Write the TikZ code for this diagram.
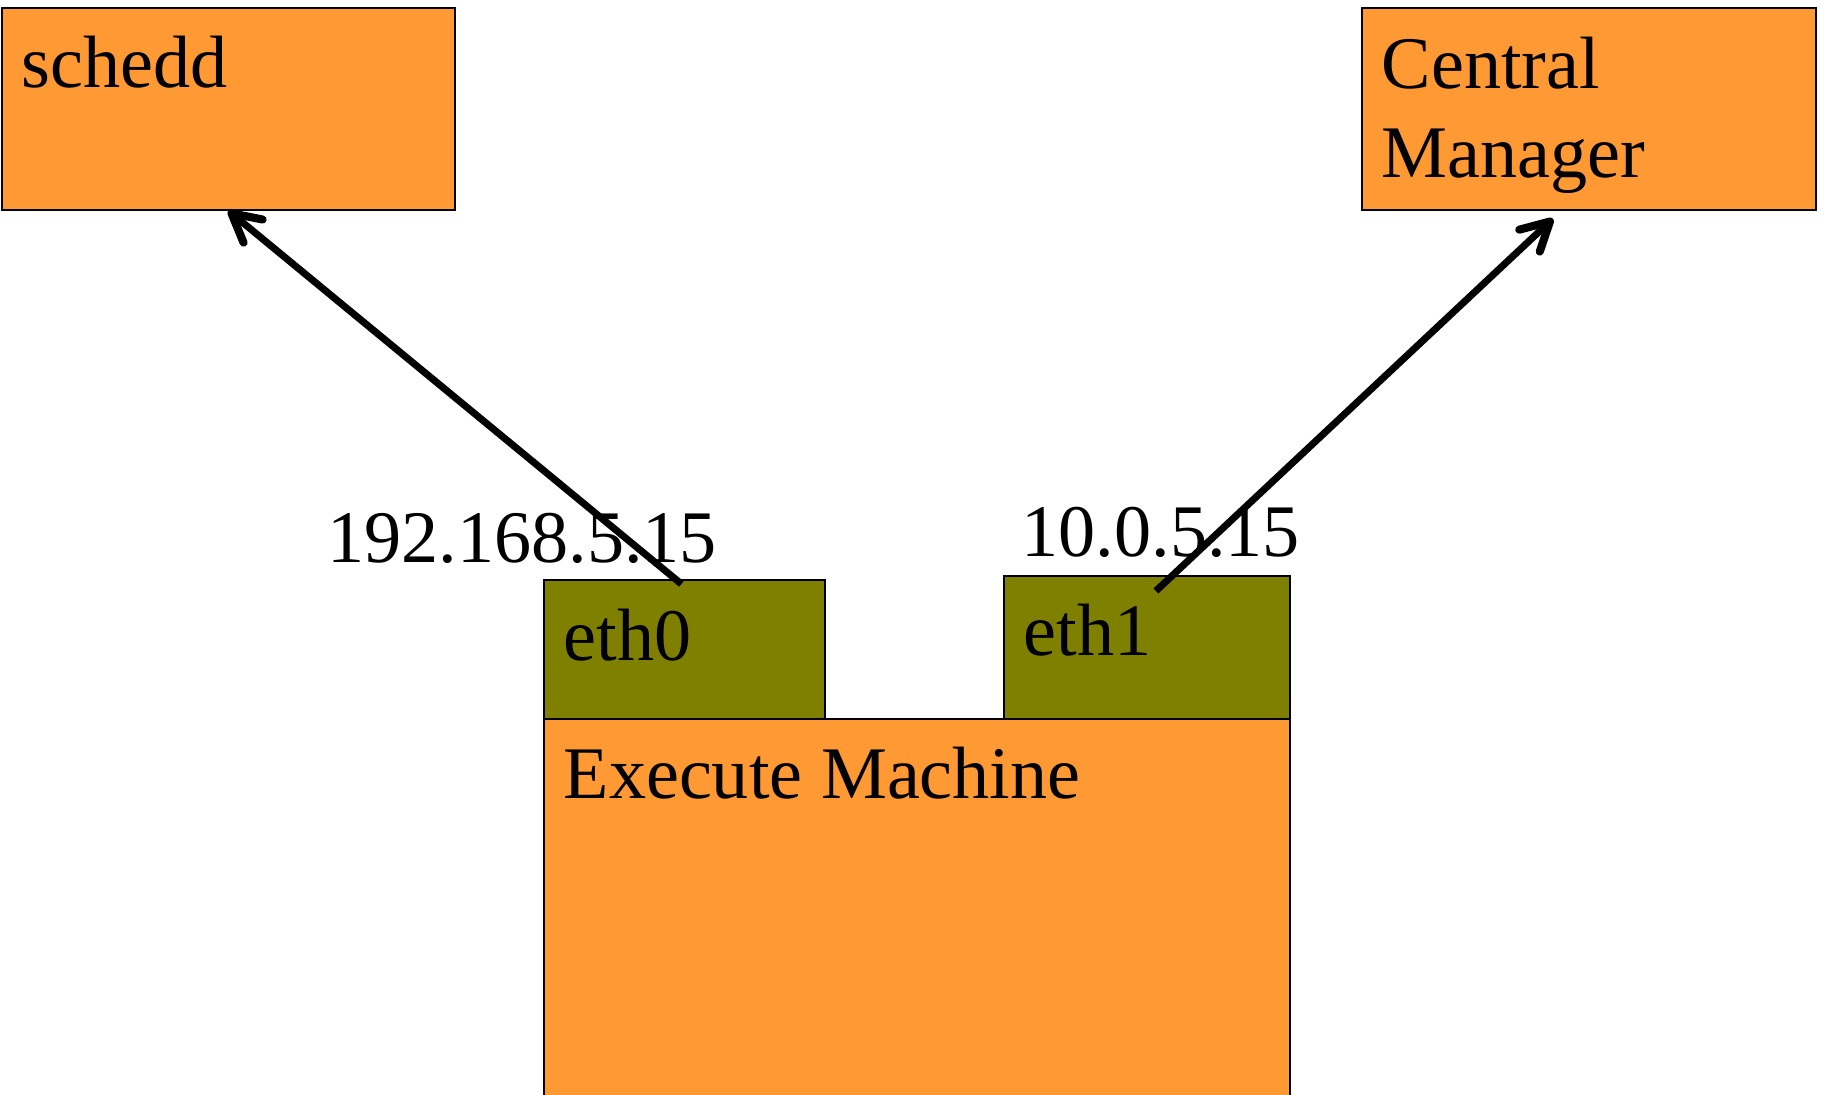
\documentclass[tikz,border=0pt]{standalone}
\usepackage{fontspec}
\setmainfont{Liberation Serif}
\usepackage{tikz}
\usetikzlibrary{positioning, calc, arrows.meta}
\definecolor{hcOrange}{RGB}{255, 153, 51}
\definecolor{hcOlive}{RGB}{128, 128, 0}
\tikzset{
    base/.style={
        font=\fontsize{21.1}{25.6}\selectfont,
        inner sep=0pt
    },
    machine/.style={
        rectangle,
        draw=black,
        line width=0.5pt,
        fill=hcOrange,
        anchor=north west,
        inner sep=0pt
    },
    nic/.style={
        machine,
        fill=hcOlive
    },
    caption/.style={
        base,
        anchor=base west,
        align=left
    },
    link/.style={
        -{Straight Barb[length=2.8mm, width=3mm, line width=2.3pt, round]},
        line width=2pt,
        color=black
    }
}

\begin{document}
\begin{tikzpicture}
    \useasboundingbox (0,0) rectangle (18.24,10.95);

    % Daemons on top
    \node[machine, minimum width=4.53cm, minimum height=2.02cm] (schedd) at (0.01,10.88) {};
    \node[caption] (scheddtxt) at (0.21,10.07) {schedd};
    \node[machine, minimum width=4.54cm, minimum height=2.02cm] (cm) at (13.61,10.88) {};
    \node[caption] (cmtxt) at (13.81,9.17) {Central\\Manager};

    % Network cards
    \node[nic, minimum width=2.81cm, minimum height=1.39cm] (eth0) at (5.43,5.16) {};
    \node[caption] (eth0txt) at (5.63,4.34) {eth0};
    \node[nic, minimum width=2.86cm, minimum height=1.43cm] (eth1) at (10.03,5.20) {};
    \node[caption] (eth1txt) at (10.23,4.39) {eth1};

    % Execute Machine
    \node[machine, minimum width=7.46cm, minimum height=3.9cm] (exec) at (5.43,3.77) {};
    \node[caption] (exectxt) at (5.63,2.96) {Execute Machine};

    % Addresses
    \node[caption] (ip0) at (3.27,5.32) {192.168.5.15};
    \node[caption] (ip1) at (10.21,5.38) {10.0.5.15};

    % Connections
    \coordinate (from0) at ($(eth0.north)+(-0.03,-0.05)$);
    \coordinate (from1) at ($(eth1.north)+(0.09,-0.16)$);
    \coordinate (to1) at ($(cm.south)+(-0.36,-0.08)$);
    \draw[link] (from0) -- (schedd.south);
    \draw[link] (from1) -- (to1);

\end{tikzpicture}
\end{document}
